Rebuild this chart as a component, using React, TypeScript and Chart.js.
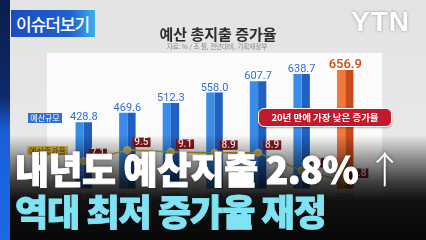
import React, { useEffect, useRef } from 'react';
import { Chart, registerables } from 'chart.js';

Chart.register(...registerables);

const years = ['2018', '2019', '2020', '2021', '2022', '2023', '2024'];
const budget = [428.8, 469.6, 512.3, 558.0, 607.7, 638.7, 656.9];
const growth = [7.1, 9.5, 9.1, 8.9, 8.9, 5.1, 2.8];

const KR = '"Noto Sans CJK KR", "Noto Sans", sans-serif';

export default function App() {
  const ref = useRef<HTMLCanvasElement>(null);

  useEffect(() => {
    document.body.style.margin = '0';
    const last = budget.length - 1;
    const lightColors = budget.map((_, i) => (i === last ? '#f2773b' : '#3a8ce9'));
    const darkColors = budget.map((_, i) => (i === last ? '#c94a1a' : '#1f60c2'));

    const labelPlugin = {
      id: 'valueLabels',
      afterDatasetsDraw(chart: any) {
        const ctx = chart.ctx;
        const m0 = chart.getDatasetMeta(0);
        const m1 = chart.getDatasetMeta(1);
        const m2 = chart.getDatasetMeta(2);
        ctx.save();
        budget.forEach((v, i) => {
          const b0 = m0.data[i];
          const b1 = m1.data[i];
          const x = (b0.x + b1.x) / 2;
          const y = b0.y;
          const isLast = i === last;
          ctx.font = `${isLast ? 500 : 400} ${isLast ? 13 : 11}px Roboto, sans-serif`;
          ctx.fillStyle = isLast ? '#d24b12' : '#2e6fd2';
          ctx.textAlign = 'center';
          ctx.textBaseline = 'alphabetic';
          ctx.fillText(v.toFixed(1), x, y - 2);
        });
        growth.forEach((v, i) => {
          const p = m2.data[i];
          const txt = v.toFixed(1);
          ctx.font = '500 10px Roboto, sans-serif';
          const w = ctx.measureText(txt).width + 4;
          const h = 9.5;
          const bx = p.x + 5;
          const by = p.y - 3 - h;
          ctx.fillStyle = '#8a1818';
          ctx.fillRect(bx, by, w, h);
          ctx.fillStyle = '#ffffff';
          ctx.textAlign = 'center';
          ctx.textBaseline = 'middle';
          ctx.fillText(txt, bx + w / 2, by + h / 2 + 0.5);
        });
        ctx.restore();
      },
    };

    const chart = new Chart(ref.current as HTMLCanvasElement, {
      type: 'bar',
      data: {
        labels: years,
        datasets: [
          {
            type: 'bar',
            data: budget,
            backgroundColor: lightColors,
            barPercentage: 1,
            categoryPercentage: 0.378,
            yAxisID: 'y',
            order: 2,
          },
          {
            type: 'bar',
            data: budget,
            backgroundColor: darkColors,
            barPercentage: 1,
            categoryPercentage: 0.378,
            yAxisID: 'y',
            order: 2,
          },
          {
            type: 'line',
            data: growth,
            yAxisID: 'y1',
            borderColor: '#c4aa3c',
            borderWidth: 1.5,
            pointRadius: 3.5,
            pointBackgroundColor: '#cdb44c',
            pointBorderColor: '#e6d68e',
            pointBorderWidth: 1,
            order: 1,
          },
        ],
      } as any,
      options: {
        responsive: false,
        animation: false,
        layout: { padding: { left: 62, right: 59, top: 60, bottom: 36 } },
        plugins: { legend: { display: false }, tooltip: { enabled: false } },
        scales: {
          x: {
            grid: { display: false, drawTicks: false },
            border: { display: false },
            ticks: { color: '#9a9a9a', font: { size: 8, family: 'Roboto' }, padding: 3 },
          },
          y: { display: false, min: 140, max: 700 },
          y1: { display: false, min: 1.2, max: 29, position: 'right' },
        },
      } as any,
      plugins: [labelPlugin],
    });
    return () => chart.destroy();
  }, []);

  const abs = (s: React.CSSProperties): React.CSSProperties => ({ position: 'absolute', ...s });

  return (
    <div
      style={{
        position: 'fixed',
        left: 0,
        top: 0,
        width: 426,
        height: 240,
        overflow: 'hidden',
        background: 'linear-gradient(to bottom, #e3e3e4, #ececec)',
        fontFamily: KR,
      }}
    >
      <div style={abs({ left: 47, top: 53, width: 335, height: 187, background: '#fbfbfb' })} />
      <canvas ref={ref} width={426} height={240} style={abs({ left: 0, top: 0, width: 426, height: 240 })} />

      <div
        style={abs({
          left: 218,
          top: 26,
          transform: 'translateX(-50%)',
          whiteSpace: 'nowrap',
          fontSize: 15,
          fontWeight: 700,
          lineHeight: '15px',
          color: '#2d2d2d',
        })}
      >
        예산 총지출 증가율
      </div>
      <div
        style={abs({
          left: 217,
          top: 43,
          transform: 'translateX(-50%)',
          whiteSpace: 'nowrap',
          fontSize: 6.5,
          lineHeight: '7px',
          color: '#8a8a8a',
        })}
      >
        자료: % / 조 원, 전년대비, 기획재정부
      </div>

      <div
        style={abs({
          left: 28,
          top: 113,
          width: 34,
          height: 10,
          background: '#2f6fd2',
          color: '#fff',
          fontSize: 8,
          lineHeight: '10px',
          textAlign: 'center',
          whiteSpace: 'nowrap',
        })}
      >
        예산규모
      </div>
      <div
        style={abs({
          left: 27,
          top: 146,
          width: 41,
          height: 9,
          background: '#e2c046',
          color: '#5a4510',
          fontSize: 8,
          lineHeight: '9px',
          textAlign: 'center',
          whiteSpace: 'nowrap',
        })}
      >
        예산증가율
      </div>

      <div
        style={abs({
          left: 258,
          top: 108,
          width: 134,
          height: 19,
          boxSizing: 'border-box',
          border: '1.5px solid #ffffff',
          borderRadius: 6,
          background: '#c21a2c',
          color: '#fff',
          fontSize: 9.5,
          fontWeight: 700,
          lineHeight: '16px',
          textAlign: 'center',
          whiteSpace: 'nowrap',
          boxShadow: '0 1px 2px rgba(0,0,0,0.3)',
        })}
      >
        20년 만에 가장 낮은 증가율
      </div>

      <div
        style={abs({
          left: 0,
          top: 135,
          width: 426,
          height: 105,
          background:
            'linear-gradient(to bottom, rgba(0,0,0,0) 0%, rgba(0,0,0,0.35) 20%, rgba(0,0,0,0.75) 45%, rgba(0,0,0,0.93) 62%, rgba(0,0,0,0.97) 100%)',
        })}
      />

      <div
        style={abs({
          left: 0,
          top: 0,
          width: 10,
          height: 240,
          background: 'linear-gradient(to bottom, #0a1d4d 0%, #0e2a6a 40%, #1a5fd8 55%, #1c68e8 100%)',
        })}
      />

      <div
        style={abs({
          left: 11,
          top: 10,
          width: 84,
          height: 27,
          background: 'linear-gradient(to right, #1b4cc0 0%, #1f5fd0 70%, #3ab0e8 100%)',
          color: '#fff',
          fontSize: 17,
          fontWeight: 500,
          letterSpacing: -1,
          lineHeight: '27px',
          paddingLeft: 5,
          boxSizing: 'border-box',
          whiteSpace: 'nowrap',
        })}
      >
        이슈더보기
      </div>

      <div
        style={abs({
          left: 351,
          top: 8,
          fontFamily: '"Liberation Sans", Arial, sans-serif',
          fontSize: 28,
          fontWeight: 900,
          lineHeight: '28px',
          letterSpacing: 1,
          color: '#ffffff',
          textShadow: '0 0 3px rgba(0,0,0,0.35)',
        })}
      >
        YTN
      </div>

      <div
        style={abs({
          left: 15,
          top: 150,
          fontSize: 37,
          fontWeight: 900,
          lineHeight: '37px',
          letterSpacing: -0.5,
          color: '#ffffff',
          whiteSpace: 'nowrap',
          WebkitTextStroke: '0.9px #ffffff',
          textShadow: '0 0 4px rgba(0,0,0,0.5)',
        })}
      >
        내년도 예산지출 2.8% <span style={{ fontWeight: 300, WebkitTextStroke: '0px' }}>↑</span>
      </div>
      <div
        style={abs({
          left: 15,
          top: 192,
          fontSize: 36,
          fontWeight: 900,
          lineHeight: '36px',
          letterSpacing: -1,
          color: '#7fe3f3',
          whiteSpace: 'nowrap',
          WebkitTextStroke: '0.9px #7fe3f3',
          textShadow: '0 0 4px rgba(0,0,0,0.5)',
        })}
      >
        역대 최저 증가율 재정
      </div>
    </div>
  );
}
